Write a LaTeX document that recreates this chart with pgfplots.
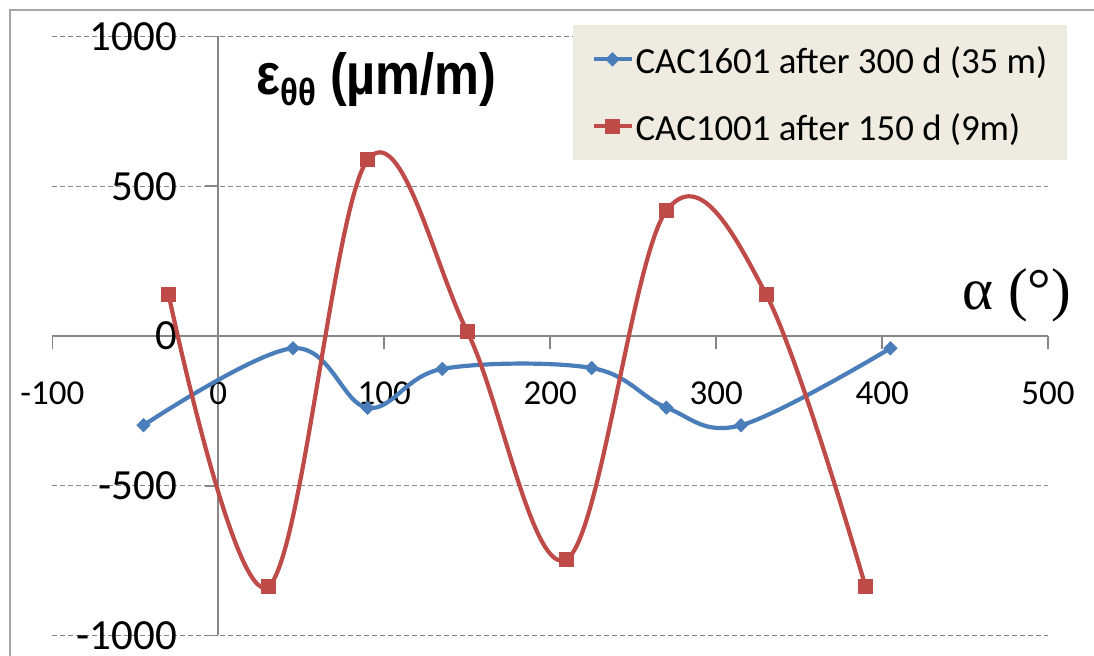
\documentclass[border=0pt]{standalone}
\usepackage{fontspec}
\setmainfont{Carlito}
\newfontfamily\arialfont{Liberation Sans}
\newfontfamily\timesfont{Liberation Serif}
\usepackage{graphicx}
\usepackage{pgfplots}
\pgfplotsset{compat=1.18}
\definecolor{blueS}{HTML}{4A7EBB}
\definecolor{redS}{HTML}{BE4B48}
\definecolor{axgray}{HTML}{868686}
\definecolor{legbg}{HTML}{EEECE1}
\definecolor{bordergray}{HTML}{A6A6A6}

\begin{document}
\begin{tikzpicture}
\useasboundingbox (0,0) rectangle (547pt,328pt);
\fill[white] (0,0) rectangle (547pt,328pt);
\draw[bordergray, line width=1pt] (4.75pt,-2pt) -- (4.75pt,323pt) -- (549pt,323pt);
\begin{axis}[
  at={(26.15pt,10.25pt)}, anchor=south west,
  scale only axis, width=497.9pt, height=299.5pt,
  xmin=-100, xmax=500, ymin=-1000, ymax=1000,
  axis lines*=middle,
  axis line style={axgray, line width=0.8pt},
  xtick={-100,0,100,200,300,400,500},
  xticklabels={-100,0,100,200,300,400,500},
  ytick={-1000,-500,0,500,1000},
  yticklabels={-1000,-500,0,500,1000},
  hide obscured x ticks=false, hide obscured y ticks=false,
  tick align=outside, major tick length=6.5pt,
  tick style={axgray, line width=0.8pt},
  xticklabel style={font=\fontsize{17.5}{17.5}\selectfont, anchor=center, inner sep=0pt, yshift=-22pt},
  yticklabel style={font=\fontsize{21.5}{21.5}\selectfont, anchor=east, inner sep=0pt, xshift=-14pt},
  ymajorgrids,
  grid style={axgray, dash pattern=on 2.5pt off 1.5pt, line width=0.6pt},
  clip=false,
  legend image code/.code={\draw[mark repeat=2, mark phase=2] plot coordinates {(0pt,0pt) (9.5pt,0pt) (19pt,0pt)};},
  legend cell align=left,
  legend style={at={(axis description cs:0.5229,1.0192)}, anchor=north west,
    fill=legbg, draw=none, font=\fontsize{18.4}{18.4}\selectfont,
    inner xsep=9pt, inner ysep=6pt, row sep=11.5pt,
    nodes={inner xsep=1pt, inner ysep=0pt, text height=18pt, text depth=4pt}},
]
\addplot[blueS, line width=2.1pt, smooth, tension=0.6, mark=diamond*, mark size=3.3pt,
  mark options={solid, fill=blueS, draw=blueS, line width=0.4pt, xscale=1.33}]
  coordinates {(-45,-298) (45,-41) (90,-240) (135,-110) (225,-107) (270,-239) (315,-298) (405,-41)};
\addlegendentry{CAC1601 after 300 d (35 m)}
\addplot[redS, line width=2.1pt, smooth, tension=0.6, mark=square*, mark size=3.5pt,
  mark options={solid, fill=redS, draw=redS, line width=0.4pt}]
  coordinates {(-30,140) (30,-837) (90,588) (150,15) (210,-745) (270,418) (330,140) (390,-837)};
\addlegendentry{CAC1001 after 150 d (9m)}
\end{axis}
\node[anchor=base west, inner sep=0pt] at (128pt,280.5pt)
  {\scalebox{0.87}[1]{\arialfont\bfseries\fontsize{29}{29}\selectfont ε\raisebox{-5.5pt}{\fontsize{19}{19}\selectfont θθ} (µm/m)}};
\node[anchor=base west, inner sep=0pt] at (481pt,173pt)
  {\timesfont\fontsize{29.5}{29.5}\selectfont α (°)};
\end{tikzpicture}
\end{document}
